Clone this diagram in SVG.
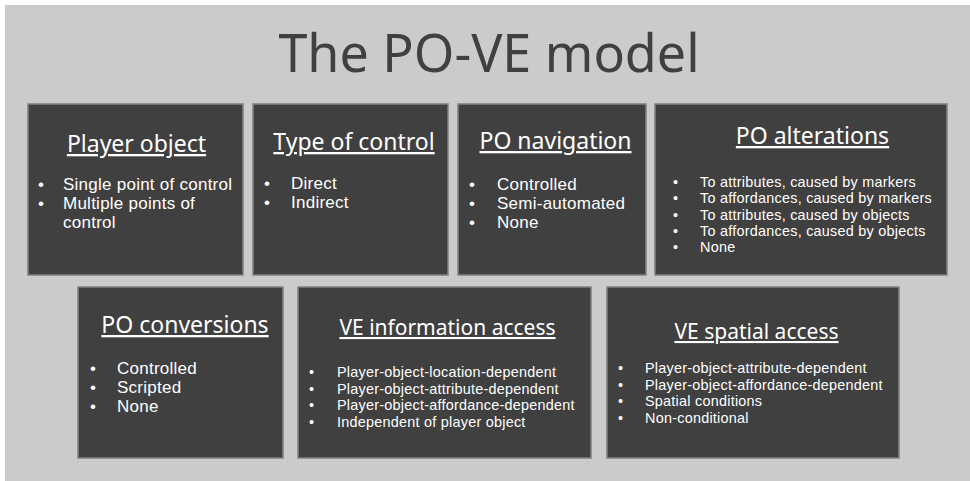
<svg xmlns="http://www.w3.org/2000/svg" width="970" height="481" viewBox="0 0 970 481">
  <style>
    .panel { fill: #cbcbcb; }
    .box { fill: #404040; stroke: #808080; stroke-width: 1.5; }
    .title { font-family: "Noto Sans", "Open Sans", sans-serif; font-size: 52px; fill: #404040; text-anchor: middle; }
    .head { font-family: "Noto Sans", "Open Sans", sans-serif; font-size: 23px; fill: #ffffff; text-anchor: middle; text-decoration: underline; }
    .head.sm { font-size: 21px; }
    .item { font-family: "Liberation Sans", Arial, sans-serif; font-size: 17px; letter-spacing: 0.25px; fill: #ffffff; }
    .small { font-family: "Liberation Sans", Arial, sans-serif; font-size: 14.4px; letter-spacing: 0.25px; fill: #ffffff; }
  </style>
  <rect x="0" y="0" width="970" height="481" fill="#ffffff"/>
  <rect class="panel" x="5" y="5" width="965" height="476"/>
  <text class="title" x="489" y="72">The PO-VE model</text>

  <g id="player-object">
    <rect class="box" x="28" y="104" width="215" height="171"/>
    <text class="head" x="136.5" y="152">Player object</text>
    <text class="item">
      <tspan x="38" y="190">•</tspan><tspan x="63" y="190">Single point of control</tspan>
      <tspan x="38" y="209">•</tspan><tspan x="63" y="209">Multiple points of</tspan>
      <tspan x="63" y="228">control</tspan>
    </text>
  </g>

  <g id="type-of-control">
    <rect class="box" x="253" y="104" width="195" height="171"/>
    <text class="head" x="354" y="150">Type of control</text>
    <text class="item">
      <tspan x="264" y="189">•</tspan><tspan x="291" y="189">Direct</tspan>
      <tspan x="264" y="208">•</tspan><tspan x="291" y="208">Indirect</tspan>
    </text>
  </g>

  <g id="po-navigation">
    <rect class="box" x="458" y="104" width="188" height="171"/>
    <text class="head" x="555.5" y="149">PO navigation</text>
    <text class="item">
      <tspan x="469" y="190">•</tspan><tspan x="497" y="190">Controlled</tspan>
      <tspan x="469" y="209">•</tspan><tspan x="497" y="209">Semi-automated</tspan>
      <tspan x="469" y="228">•</tspan><tspan x="497" y="228">None</tspan>
    </text>
  </g>

  <g id="po-alterations">
    <rect class="box" x="655" y="104" width="292" height="171"/>
    <text class="head" x="812.5" y="144">PO alterations</text>
    <text class="small">
      <tspan x="673" y="187">•</tspan><tspan x="700" y="187">To attributes, caused by markers</tspan>
      <tspan x="673" y="203.25">•</tspan><tspan x="700" y="203.25">To affordances, caused by markers</tspan>
      <tspan x="673" y="219.5">•</tspan><tspan x="700" y="219.5">To attributes, caused by objects</tspan>
      <tspan x="673" y="235.75">•</tspan><tspan x="700" y="235.75">To affordances, caused by objects</tspan>
      <tspan x="673" y="252">•</tspan><tspan x="700" y="252">None</tspan>
    </text>
  </g>

  <g id="po-conversions">
    <rect class="box" x="78" y="287" width="205" height="171"/>
    <text class="head" x="185" y="333">PO conversions</text>
    <text class="item">
      <tspan x="90" y="374">•</tspan><tspan x="117" y="374">Controlled</tspan>
      <tspan x="90" y="393">•</tspan><tspan x="117" y="393">Scripted</tspan>
      <tspan x="90" y="412">•</tspan><tspan x="117" y="412">None</tspan>
    </text>
  </g>

  <g id="ve-information-access">
    <rect class="box" x="298" y="287" width="293" height="171"/>
    <text class="head sm" x="447.5" y="335">VE information access</text>
    <text class="small">
      <tspan x="309" y="377">•</tspan><tspan x="337" y="377">Player-object-location-dependent</tspan>
      <tspan x="309" y="393.7">•</tspan><tspan x="337" y="393.7">Player-object-attribute-dependent</tspan>
      <tspan x="309" y="410.4">•</tspan><tspan x="337" y="410.4">Player-object-affordance-dependent</tspan>
      <tspan x="309" y="427">•</tspan><tspan x="337" y="427">Independent of player object</tspan>
    </text>
  </g>

  <g id="ve-spatial-access">
    <rect class="box" x="607" y="287" width="292" height="171"/>
    <text class="head sm" x="756.5" y="339">VE spatial access</text>
    <text class="small">
      <tspan x="618" y="373">•</tspan><tspan x="645" y="373">Player-object-attribute-dependent</tspan>
      <tspan x="618" y="389.7">•</tspan><tspan x="645" y="389.7">Player-object-affordance-dependent</tspan>
      <tspan x="618" y="406.4">•</tspan><tspan x="645" y="406.4">Spatial conditions</tspan>
      <tspan x="618" y="423">•</tspan><tspan x="645" y="423">Non-conditional</tspan>
    </text>
  </g>

  <g id="connectors"/>
</svg>
